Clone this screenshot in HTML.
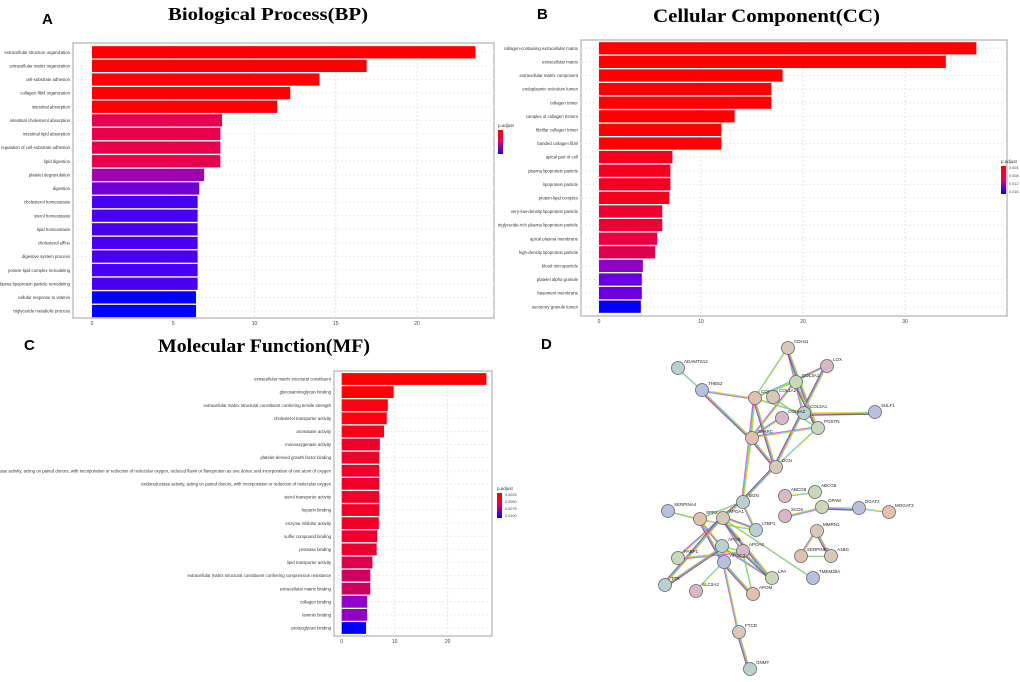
<!DOCTYPE html>
<html><head><meta charset="utf-8"><style>
body{margin:0;width:1020px;height:682px;background:#fff;overflow:hidden;font-family:"Liberation Sans",sans-serif}
svg{position:absolute;left:0;top:0}
</style></head><body>
<svg id="s" width="1020" height="682">
<text x="42" y="24" font-size="15" font-weight="bold">A</text>
<text x="168" y="20" font-size="18" font-weight="bold" font-family="Liberation Serif" textLength="200" lengthAdjust="spacingAndGlyphs">Biological Process(BP)</text>
<text x="537" y="19" font-size="15" font-weight="bold">B</text>
<text x="653" y="22" font-size="19" font-weight="bold" font-family="Liberation Serif" textLength="227" lengthAdjust="spacingAndGlyphs">Cellular Component(CC)</text>
<text x="24" y="350" font-size="15" font-weight="bold">C</text>
<text x="158" y="352" font-size="19" font-weight="bold" font-family="Liberation Serif" textLength="212" lengthAdjust="spacingAndGlyphs">Molecular Function(MF)</text>
<text x="541" y="349" font-size="15" font-weight="bold">D</text>
</svg>
<script>
const bpCats=["extracellular structure organization","extracellular matrix organization","cell-substrate adhesion","collagen fibril organization","intestinal absorption","intestinal cholesterol absorption","intestinal lipid absorption","regulation of cell-substrate adhesion","lipid digestion","platelet degranulation","digestion","cholesterol homeostasis","sterol homeostasis","lipid homeostasis","cholesterol efflux","digestive system process","protein-lipid complex remodeling","plasma lipoprotein particle remodeling","cellular response to vitamin","triglyceride metabolic process"];
const bpVals=[23.6,16.9,14.0,12.2,11.4,8.0,7.9,7.9,7.9,6.9,6.6,6.5,6.5,6.5,6.5,6.5,6.5,6.5,6.4,6.4];
const bpCols=["#ff0000","#ff0000","#ff0000","#ff0000","#ff0000","#e8004c","#e8004c","#e8004c","#e8004c","#a000b0","#7000d8","#4a00f0","#4a00f0","#4a00f0","#4a00f0","#4a00f0","#4a00f0","#4a00f0","#0000ff","#0000ff"];
const bpTicks=[0,5,10,15,20];
const ccCats=["collagen-containing extracellular matrix","extracellular matrix","extracellular matrix component","endoplasmic reticulum lumen","collagen trimer","complex of collagen trimers","fibrillar collagen trimer","banded collagen fibril","apical part of cell","plasma lipoprotein particle","lipoprotein particle","protein-lipid complex","very-low-density lipoprotein particle","triglyceride-rich plasma lipoprotein particle","apical plasma membrane","high-density lipoprotein particle","blood microparticle","platelet alpha granule","basement membrane","secretory granule lumen"];
const ccVals=[37,34,18,16.9,16.9,13.3,12,12,7.2,7.0,7.0,6.9,6.2,6.2,5.7,5.5,4.3,4.2,4.2,4.1];
const ccCols=["#ff0000","#ff0000","#ff0000","#ff0000","#ff0000","#ff0000","#ff0000","#ff0000","#f50020","#f50020","#f50020","#f50020","#ee0030","#ee0030","#e80040","#e00050","#9000c8","#6a00e0","#6a00e0","#0000ff"];
const ccTicks=[0,10,20,30];
const mfCats=["extracellular matrix structural constituent","glycosaminoglycan binding","extracellular matrix structural constituent conferring tensile strength","cholesterol transporter activity","aromatase activity","monooxygenase activity","platelet-derived growth factor binding","oxidoreductase activity, acting on paired donors, with incorporation or reduction of molecular oxygen, reduced flavin or flavoprotein as one donor, and incorporation of one atom of oxygen","oxidoreductase activity, acting on paired donors, with incorporation or reduction of molecular oxygen","sterol transporter activity","heparin binding","enzyme inhibitor activity","sulfur compound binding","protease binding","lipid transporter activity","extracellular matrix structural constituent conferring compression resistance","extracellular matrix binding","collagen binding","laminin binding","proteoglycan binding"];
const mfVals=[27.3,9.8,8.7,8.5,8.0,7.2,7.1,7.1,7.1,7.1,7.1,7.0,6.7,6.6,5.8,5.4,5.4,4.8,4.8,4.6];
const mfCols=["#ff0000","#ff0000","#ff0010","#ff0010","#f80018","#f00028","#f00028","#f00028","#f00028","#f00028","#f00028","#f00028","#ec0030","#ec0030","#e0004a","#d00060","#d00060","#9000c8","#9000c8","#0000ff"];
const mfTicks=[0,10,20];
const NS="http://www.w3.org/2000/svg";
const svg=document.getElementById('s');
function mk(t,a,p){const e=document.createElementNS(NS,t);for(const k in a)e.setAttribute(k,a[k]);(p||svg).appendChild(e);return e;}
function chart(key,cats,vals,cols,ticks,box,x0,pxPerUnit,y0,y1){
 const g=mk('g',{});
 
 
 mk('rect',{x:box[0],y:box[1],width:box[2]-box[0],height:box[3]-box[1],fill:'#fff',stroke:'#b0b0b0','stroke-width':1.2},g);
 const xs=v=>x0+v*pxPerUnit;
 const step=(y1-y0)/(cats.length-1);
 const ys=i=>y0+i*step;
 ticks.forEach(t=>{mk('line',{x1:xs(t),x2:xs(t),y1:box[1],y2:box[3],stroke:'#e4e4e4','stroke-dasharray':'2,2'},g);
  const tx=mk('text',{x:xs(t),y:box[3]+7,'font-size':5,'text-anchor':'middle',fill:'#444'},g);tx.textContent=t;
  
  });
 cats.forEach((c,i)=>{
  mk('line',{x1:box[0],x2:box[2],y1:ys(i),y2:ys(i),stroke:'#ececec','stroke-dasharray':'2,2'},g);
  const r=mk('rect',{x:xs(0),y:ys(i)-step*0.45,width:xs(vals[i])-xs(0),height:step*0.9,fill:cols[i]},g);
  
  
  const t=mk('text',{x:box[0]-3,y:ys(i)+1.6,'font-size':4.3,'text-anchor':'end',fill:'#333'},g);t.textContent=c;
  
  
 });
}
chart('bp',bpCats,bpVals,bpCols,bpTicks,[73,43,494,318],92,16.25,52.3,311);
chart('cc',ccCats,ccVals,ccCols,ccTicks,[581,40,1007,316],599,10.2,48.3,306.7);
chart('mf',mfCats,mfVals,mfCols,mfTicks,[334,371,492,636],341.7,5.3,379,628);
function legend(key,x,y,h,labels){
 const g=mk('g',{});
 
 
 const gr=mk('linearGradient',{id:'lg'+key,x1:0,y1:0,x2:0,y2:1},g);
 mk('stop',{offset:0,'stop-color':'#ff0000'},gr);mk('stop',{offset:0.5,'stop-color':'#e00060'},gr);mk('stop',{offset:1,'stop-color':'#0000ff'},gr);
 const t=mk('text',{x:x,y:y-3,'font-size':4.5,fill:'#333'},g);t.textContent='p.adjust';
 mk('rect',{x:x,y:y,width:5,height:h,fill:'url(#lg'+key+')'},g);
 labels.forEach((l,i)=>{const tt=mk('text',{x:x+8,y:y+3+i*(h-4)/(labels.length-1),'font-size':3.8,fill:'#444'},g);tt.textContent=l;});
}
legend('bp',498,130,24,[]);
legend('cc',1001,166,28,['0.004','0.008','0.012','0.016']);
legend('mf',497,493,25,['0.0025','0.0050','0.0075','0.0100']);
const nodes={CDH11:[788,348],ADAMTS12:[678,368],LOX:[827,366],COL3A1:[796,382],THBS2:[702,390],COL1A1:[755,398],COL1A2:[773,397],COL5A1:[804,413],COL5A2:[782,418],POSTN:[818,428],SULF1:[875,412],SPARC:[752,438],DCN:[776,467],BGN:[743,502],ABCG8:[785,496],ABCG5:[815,492],SERPINA4:[668,511],SPP2:[700,519],APOA1:[723,518],LTBP1:[756,530],SCD5:[785,516],GPAM:[822,507],DGAT2:[859,508],MOGAT3:[889,512],MMRN1:[817,531],APOB:[722,546],APOA2:[743,551],FABP1:[678,558],APOC3:[724,562],SERPINF2:[801,556],A1BG:[831,556],TTR:[665,585],SLC2A2:[696,591],LPA:[772,578],TMEM30A:[813,578],APOM:[753,594],FTCD:[739,632],GNMT:[750,669]};
const edges=[["ADAMTS12","THBS2"],["THBS2","COL1A1"],["THBS2","SPARC"],["CDH11","COL1A1"],["CDH11","COL5A1"],["CDH11","POSTN"],["LOX","COL1A1"],["LOX","COL3A1"],["LOX","DCN"],["COL3A1","COL1A1"],["COL3A1","SPARC"],["COL3A1","POSTN"],["COL1A1","COL5A1"],["COL1A1","SPARC"],["COL1A1","DCN"],["COL1A2","POSTN"],["COL5A2","SPARC"],["COL5A1","SULF1"],["POSTN","DCN"],["POSTN","SPARC"],["SPARC","DCN"],["SPARC","BGN"],["COL1A1","BGN"],["DCN","BGN"],["BGN","SPP2"],["BGN","LTBP1"],["BGN","APOA1"],["SERPINA4","SPP2"],["SPP2","APOB"],["SPP2","APOC3"],["SPP2","LTBP1"],["APOA1","APOA2"],["APOA1","LPA"],["APOA1","TMEM30A"],["APOA1","FABP1"],["APOA1","TTR"],["APOB","APOA2"],["APOB","LPA"],["APOC3","APOM"],["APOC3","SLC2A2"],["APOC3","FTCD"],["APOA2","LPA"],["APOA2","APOM"],["FABP1","APOA2"],["FTCD","GNMT"],["ABCG8","ABCG5"],["SCD5","GPAM"],["GPAM","DGAT2"],["DGAT2","MOGAT3"],["MMRN1","SERPINF2"],["MMRN1","A1BG"],["SERPINF2","A1BG"],["LTBP1","APOA1"],["TTR","APOB"]];
const ecols=['#d8d800','#40c0e0','#e040e0','#555'];
const eg=mk('g',{});


edges.forEach(([a,b],i)=>{const A=nodes[a],B=nodes[b];const dx=B[0]-A[0],dy=B[1]-A[1],L=Math.hypot(dx,dy)||1;const nx=-dy/L,ny=dx/L;
 ecols.slice(0,2+(i%3)).forEach((c,k)=>{mk('line',{x1:A[0]+nx*k*0.8,y1:A[1]+ny*k*0.8,x2:B[0]+nx*k*0.8,y2:B[1]+ny*k*0.8,stroke:c,'stroke-width':0.7},eg);});});
const fills=['#d8c8b8','#b8d0d0','#d8b8c8','#c8d8b8','#b8c0e0','#e0c0b0'];
let idx=0;
for(const n in nodes){const [x,y]=nodes[n];
 const c=mk('circle',{cx:x,cy:y,r:6.5,fill:fills[idx%fills.length],stroke:'#666','stroke-width':0.8});
 
 
 const t=mk('text',{x:x+6,y:y-5,'font-size':4.5,fill:'#222'});t.textContent=n;
 
 
 idx++;}
</script>
</body></html>
